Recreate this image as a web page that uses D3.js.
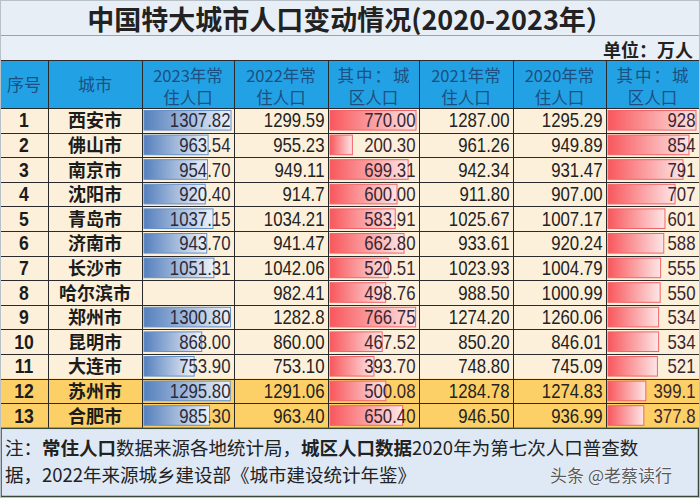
<!DOCTYPE html>
<html><head><meta charset="utf-8">
<script src="https://cdn.jsdelivr.net/npm/d3@7"></script>
<style>
body{margin:0;background:#fff;}
svg{display:block;}
.cjk{font-family:"Noto Sans CJK SC","Noto Sans",sans-serif;}
.num{font-family:"Liberation Sans",Arial,sans-serif;}
</style>
</head><body>
<svg id="chart" width="700" height="498"></svg>
<script>
const title = "中国特大城市人口变动情况(2020-2023年）";
const unitLabel = "单位：万人";
const headers = [["序号"],["城市"],["2023年常","住人口"],["2022年常","住人口"],["其中：城","区人口"],["2021年常","住人口"],["2020年常","住人口"],["其中：城","区人口"]];
const ranks = ["1","2","3","4","5","6","7","8","9","10","11","12","13"];
const cities = ["西安市","佛山市","南京市","沈阳市","青岛市","济南市","长沙市","哈尔滨市","郑州市","昆明市","大连市","苏州市","合肥市"];
const pop2023 = ["1307.82","963.54","954.70","920.40","1037.15","943.70","1051.31","","1300.80","868.00","753.90","1295.80","985.30"];
const pop2022 = ["1299.59","955.23","949.11","914.7","1034.21","941.47","1042.06","982.41","1282.8","860.00","753.10","1291.06","963.40"];
const urban2022 = ["770.00","200.30","699.31","600.00","583.91","662.80","520.51","498.76","766.75","467.52","393.70","500.08","650.40"];
const pop2021 = ["1287.00","961.26","942.34","911.80","1025.67","933.61","1023.93","988.50","1274.20","850.20","748.80","1284.78","946.50"];
const pop2020 = ["1295.29","949.89","931.47","907.00","1007.17","920.24","1004.79","1000.99","1260.06","846.01","745.09","1274.83","936.99"];
const urban2020 = ["928","854","791","707","601","588","555","550","534","534","521","399.1","377.8"];
const highlightRows = [11,12];
const noteLine1 = [["注：",false],["常住人口",true],["数据来源各地统计局，",false],["城区人口数据",true],["2020年为第七次人口普查数",false]];
const noteLine2 = "据，2022年来源城乡建设部《城市建设统计年鉴》";
const watermark = "头条 @老蔡读行";

const W = 700, H = 498;
const svg = d3.select("#chart");
const colEdges = [0,48,142,234,328,419,513,606,699];
const titleBottom = 35, unitBottom = 60, headBottom = 108, rowH = 24.6;
const nRows = cities.length;
const tableBottom = headBottom + rowH * nRows;

const yRow = d3.scaleBand().domain(d3.range(nRows)).range([headBottom, tableBottom]).padding(0);

// backgrounds
svg.append("rect").attr("x",0).attr("y",0).attr("width",W).attr("height",titleBottom).attr("fill","#e8eef6");
svg.append("rect").attr("x",0).attr("y",titleBottom).attr("width",W).attr("height",unitBottom-titleBottom).attr("fill","#e9eff7");
svg.append("rect").attr("x",0).attr("y",unitBottom).attr("width",W).attr("height",headBottom-unitBottom).attr("fill","#22a2e4");
svg.selectAll("rect.rowbg").data(d3.range(nRows)).join("rect").attr("class","rowbg")
  .attr("x",0).attr("y",i=>yRow(i)).attr("width",W).attr("height",yRow.bandwidth())
  .attr("fill",i=>highlightRows.includes(i)?"#fcd066":"#fcf0da");
svg.append("rect").attr("x",0).attr("y",tableBottom).attr("width",W).attr("height",H-tableBottom).attr("fill","#dfe9f5");

// title
svg.append("text").attr("class","cjk").attr("x",W/2).attr("y",30).attr("text-anchor","middle")
  .attr("font-size",27).attr("font-weight",700).attr("fill","#222").text(title);
svg.append("text").attr("class","cjk").attr("x",693).attr("y",57).attr("text-anchor","end")
  .attr("font-size",18).attr("font-weight",700).attr("fill","#222").text(unitLabel);

// header text
headers.forEach((h,ci)=>{
  const cx = (colEdges[ci]+colEdges[ci+1])/2;
  if(h.length===1){
    svg.append("text").attr("class","cjk").attr("x",cx).attr("y",91).attr("text-anchor","middle")
      .attr("font-size",17).attr("fill","#1d4f80").text(h[0]);
  } else {
    const t1 = svg.append("text").attr("class","cjk").attr("x",cx).attr("y",81.5).attr("text-anchor","middle")
      .attr("font-size",16.5).attr("fill","#1d4f80").text(h[0]);
    if(h[0].startsWith("其中")) t1.attr("textLength",72).attr("lengthAdjust","spacing");
    svg.append("text").attr("class","cjk").attr("x",cx).attr("y",103.5).attr("text-anchor","middle")
      .attr("font-size",16.5).attr("fill","#1d4f80").text(h[1]);
  }
});

// gradients
const defs = svg.append("defs");
function grad(id, c0, c1){
  const g = defs.append("linearGradient").attr("id",id).attr("x1","0%").attr("x2","100%").attr("y1","0%").attr("y2","0%");
  g.append("stop").attr("offset","0%").attr("stop-color",c0);
  g.append("stop").attr("offset","100%").attr("stop-color",c1);
}
grad("gBlue","#5580bd","#eef2f9");
grad("gRed","#f8575c","#fde6e6");

// data bars
function bars(colIdx, values, gid, stroke){
  const x0 = colEdges[colIdx]+2, x1 = colEdges[colIdx+1]-3;
  const nums = values.map(v=>v===""?null:+v);
  const xs = d3.scaleLinear().domain([0,d3.max(nums)]).range([x0,x1]);
  svg.append("g").selectAll("rect").data(nums.map((v,i)=>({v,i})).filter(d=>d.v!==null)).join("rect")
    .attr("x",x0).attr("y",d=>yRow(d.i)+2.5).attr("height",yRow.bandwidth()-5)
    .attr("width",d=>xs(d.v)-x0).attr("fill",`url(#${gid})`).attr("stroke",stroke).attr("stroke-width",1);
}
bars(2,pop2023,"gBlue","#6690c8");
bars(4,urban2022,"gRed","#f2646a");
bars(7,urban2020,"gRed","#f2646a");

// grid lines
const gl = svg.append("g").attr("stroke","#2a2a2a").attr("stroke-width",1);
colEdges.slice(1,-1).forEach(x=>{
  gl.append("line").attr("x1",x+0.5).attr("x2",x+0.5).attr("y1",unitBottom).attr("y2",tableBottom);
});
d3.range(nRows+1).forEach(i=>{
  const y = Math.round(headBottom + i*rowH)+0.5;
  gl.append("line").attr("x1",0).attr("x2",W).attr("y1",y).attr("y2",y);
});
gl.append("line").attr("x1",0).attr("x2",W).attr("y1",unitBottom+0.5).attr("y2",unitBottom+0.5);
svg.append("line").attr("x1",0).attr("x2",W).attr("y1",titleBottom+0.5).attr("y2",titleBottom+0.5).attr("stroke","#9aa4b0");

// cell text
function col(colIdx, values, opts){
  const g = svg.append("g");
  values.forEach((v,i)=>{
    if(v==="") return;
    const y = yRow(i)+yRow.bandwidth()/2+7;
    const x = opts.center ? (colEdges[colIdx]+colEdges[colIdx+1])/2 : colEdges[colIdx+1]-3.5;
    const sx = opts.sx || 1;
    g.append("text").attr("transform",`translate(${x},${y}) scale(${sx},1)`)
      .attr("text-anchor",opts.center?"middle":"end").text(v).attr("fill",opts.fill||"#222")
      .attr("class",opts.cls).attr("font-size",opts.size).attr("font-weight",opts.weight||400);
  });
}
col(0, ranks, {center:true, cls:"num", size:20, weight:700, fill:"#1c1c1c", sx:0.88});
col(1, cities, {center:true, cls:"cjk", size:18, weight:700, fill:"#1c1c1c"});
col(2, pop2023, {cls:"num", size:20, fill:"#2a2a3a", sx:0.84});
col(3, pop2022, {cls:"num", size:20, sx:0.84});
col(4, urban2022, {cls:"num", size:20, fill:"#3a2630", sx:0.84});
col(5, pop2021, {cls:"num", size:20, sx:0.84});
col(6, pop2020, {cls:"num", size:20, sx:0.84});
col(7, urban2020, {cls:"num", size:20, fill:"#3a2630", sx:0.84});

// footer note
const n1 = svg.append("text").attr("class","cjk").attr("x",5).attr("y",455).attr("font-size",18.5).attr("fill","#222");
noteLine1.forEach(([s,b])=>{ n1.append("tspan").attr("font-weight",b?700:400).text(s); });
svg.append("text").attr("class","cjk").attr("x",5).attr("y",482).attr("font-size",18.5).attr("fill","#222").text(noteLine2);
svg.append("text").attr("class","cjk").attr("x",672).attr("y",482).attr("text-anchor","end").attr("font-size",17)
  .attr("fill","#5a5a5a").attr("stroke","#ffffff").attr("stroke-width",0.6).attr("paint-order","stroke").text(watermark);
svg.append("rect").attr("x",1).attr("y",tableBottom+0.5).attr("width",W-2.5).attr("height",H-tableBottom-2)
  .attr("fill","none").attr("stroke","#3a4a3a").attr("stroke-width",1.5);
svg.append("rect").attr("x",0.5).attr("y",0.5).attr("width",W-1).attr("height",H-1).attr("fill","none").attr("stroke","#b8c0c8");
</script>
</body></html>
